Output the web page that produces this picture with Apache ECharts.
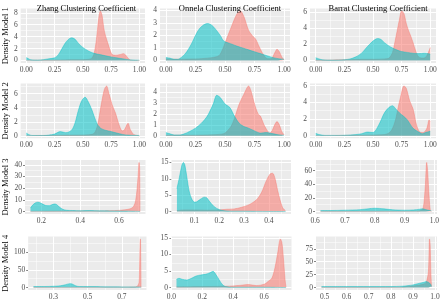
<!DOCTYPE html>
<html>
<head>
<meta charset="utf-8">
<script src="https://cdn.jsdelivr.net/npm/echarts@6/dist/echarts.min.js"></script>
</head>
<body style="margin:0; background:#fff">
<div id="main" style="width:443px;height:304px"></div>
<script>
// column titles and row names
var titles = ['Zhang Clustering Coefficient', 'Onnela Clustering Coefficient', 'Barrat Clustering Coefficient'];
var rowNames = ['Density Model 1', 'Density Model 2', 'Density Model 3', 'Density Model 4'];

// density curves, [x, density]
var zhangM1Red = [[0,0.05],[0.1,0.05],[0.2,0.08],[0.3,0.1],[0.4,0.15],[0.5,0.15],[0.55,0.2],[0.58,0.4],[0.6,1.2],[0.62,3.5],[0.64,7.0],[0.655,8.3],[0.67,7.6],[0.685,5.5],[0.7,4.2],[0.72,3.0],[0.74,1.8],[0.76,1.0],[0.79,0.9],[0.83,1.0],[0.86,1.15],[0.88,0.9],[0.9,0.4],[0.92,0.1],[0.95,0.02],[1.0,0]];
var zhangM1Teal = [[0,0.5],[0.02,0.3],[0.04,0.12],[0.1,0.08],[0.15,0.15],[0.2,0.3],[0.25,0.45],[0.28,0.9],[0.31,1.8],[0.34,2.8],[0.37,3.5],[0.4,3.8],[0.43,3.6],[0.46,2.9],[0.5,2.2],[0.55,1.6],[0.6,1.2],[0.65,1.0],[0.7,0.8],[0.75,0.6],[0.8,0.45],[0.85,0.3],[0.9,0.15],[0.95,0.08],[1.0,0.05]];
var onnelaM1Red = [[0,0.15],[0.05,0.1],[0.1,0.1],[0.2,0.12],[0.3,0.15],[0.4,0.25],[0.45,0.4],[0.48,0.9],[0.5,1.4],[0.55,2.6],[0.6,3.7],[0.63,3.95],[0.66,3.5],[0.7,2.4],[0.73,2.0],[0.76,1.7],[0.78,1.3],[0.8,0.9],[0.83,0.4],[0.86,0.15],[0.89,0.15],[0.92,0.6],[0.94,0.9],[0.96,0.7],[0.98,0.3],[1.0,0.05]];
var onnelaM1Teal = [[0,0.25],[0.03,0.2],[0.07,0.1],[0.1,0.1],[0.13,0.25],[0.16,0.5],[0.19,0.9],[0.22,1.4],[0.25,2.0],[0.28,2.5],[0.32,2.85],[0.355,2.95],[0.39,2.8],[0.42,2.5],[0.46,2.0],[0.49,1.55],[0.53,1.4],[0.56,1.3],[0.6,1.15],[0.65,1.0],[0.7,0.85],[0.75,0.7],[0.8,0.55],[0.85,0.4],[0.9,0.25],[0.95,0.15],[1.0,0.1]];
var barratM1Red = [[0,0.05],[0.1,0.05],[0.2,0.08],[0.3,0.1],[0.4,0.15],[0.5,0.15],[0.6,0.2],[0.64,0.3],[0.67,1.0],[0.69,2.2],[0.71,3.6],[0.73,5.0],[0.75,6.1],[0.77,5.8],[0.79,4.6],[0.81,3.7],[0.83,3.0],[0.85,2.2],[0.87,1.3],[0.89,0.6],[0.91,0.35],[0.94,0.3],[0.96,0.4],[0.98,0.9],[1.0,1.6]];
var barratM1Teal = [[0,0.35],[0.03,0.2],[0.06,0.08],[0.15,0.05],[0.25,0.1],[0.3,0.2],[0.35,0.45],[0.4,0.9],[0.45,1.7],[0.5,2.4],[0.54,2.7],[0.57,2.6],[0.6,2.2],[0.65,1.7],[0.7,1.35],[0.75,1.1],[0.8,1.0],[0.85,0.9],[0.9,0.85],[0.95,0.9],[1.0,0.8]];

var zhangM2Red = [[0,0.02],[0.2,0.05],[0.4,0.1],[0.55,0.15],[0.6,0.35],[0.63,1.5],[0.66,4.2],[0.69,6.6],[0.71,7.1],[0.73,6.1],[0.76,4.4],[0.79,3.2],[0.82,1.6],[0.85,0.7],[0.87,0.9],[0.89,1.6],[0.9,1.8],[0.92,0.9],[0.95,0.2],[0.98,0.05],[1.0,0]];
var zhangM2Teal = [[0,0.4],[0.02,0.2],[0.05,0.05],[0.15,0.05],[0.2,0.1],[0.25,0.25],[0.3,0.6],[0.35,0.45],[0.4,0.8],[0.43,1.8],[0.46,3.6],[0.49,5.0],[0.52,5.5],[0.55,4.8],[0.58,3.7],[0.6,2.8],[0.63,1.6],[0.66,1.05],[0.7,0.8],[0.75,0.6],[0.8,0.4],[0.85,0.2],[0.9,0.1],[1.0,0.05]];
var onnelaM2Red = [[0,0.05],[0.2,0.05],[0.4,0.1],[0.47,0.15],[0.5,0.25],[0.55,0.85],[0.58,1.6],[0.62,2.9],[0.66,3.8],[0.7,4.55],[0.72,4.1],[0.75,2.9],[0.78,2.0],[0.8,1.8],[0.83,1.0],[0.86,0.45],[0.88,0.25],[0.9,0.5],[0.92,1.0],[0.94,1.3],[0.96,1.0],[0.98,0.4],[1.0,0.1]];
var onnelaM2Teal = [[0,0.3],[0.03,0.2],[0.07,0.08],[0.12,0.08],[0.16,0.2],[0.2,0.4],[0.25,0.7],[0.3,1.15],[0.35,1.8],[0.4,2.9],[0.43,3.7],[0.46,3.5],[0.5,2.9],[0.54,2.6],[0.58,1.8],[0.62,1.15],[0.66,0.85],[0.7,0.7],[0.75,0.45],[0.8,0.25],[0.85,0.3],[0.9,0.2],[0.95,0.1],[1.0,0.05]];
var barratM2Red = [[0,0.02],[0.3,0.05],[0.5,0.1],[0.6,0.15],[0.65,0.45],[0.68,1.2],[0.7,2.1],[0.72,3.4],[0.74,4.6],[0.77,5.95],[0.79,5.7],[0.82,4.2],[0.85,3.2],[0.88,1.3],[0.91,0.45],[0.94,0.4],[0.97,0.9],[0.99,1.9],[1.0,1.7]];
var barratM2Teal = [[0,0.3],[0.03,0.15],[0.08,0.05],[0.2,0.05],[0.3,0.1],[0.35,0.15],[0.4,0.25],[0.45,0.45],[0.5,0.4],[0.55,1.3],[0.6,2.75],[0.64,3.4],[0.67,3.6],[0.7,3.2],[0.73,2.75],[0.77,2.3],[0.8,1.9],[0.85,0.9],[0.9,0.45],[0.93,0.25],[0.96,0.4],[1.0,0.55]];

var zhangM3Red = [[0.144,0.2],[0.2,0.3],[0.3,0.4],[0.4,0.5],[0.5,0.5],[0.55,0.7],[0.6,1.0],[0.63,1.5],[0.66,2.5],[0.675,4.5],[0.685,9],[0.692,18],[0.698,30],[0.703,42],[0.706,38],[0.708,0]];
var zhangM3Teal = [[0.144,3],[0.155,5.5],[0.17,7.5],[0.18,8],[0.19,7.8],[0.2,7],[0.22,5.3],[0.24,5],[0.26,6.2],[0.27,6.5],[0.28,5.8],[0.29,4.3],[0.31,2],[0.33,1.1],[0.36,0.9],[0.4,0.7],[0.45,0.9],[0.5,0.6],[0.55,0.5],[0.6,0.4],[0.65,0.3],[0.708,0.1]];
var onnelaM3Red = [[0.03,0.3],[0.06,0.5],[0.1,0.5],[0.15,0.4],[0.2,0.5],[0.23,0.7],[0.26,0.8],[0.29,1.3],[0.32,2.1],[0.35,3.6],[0.37,5.8],[0.39,9.5],[0.405,11.5],[0.415,11.7],[0.425,10],[0.435,6.5],[0.445,3.5],[0.455,1.2],[0.467,0.2]];
var onnelaM3Teal = [[0.03,7],[0.04,10.5],[0.05,14.2],[0.056,15],[0.062,14.2],[0.07,10.5],[0.08,6],[0.09,3.8],[0.1,2.9],[0.11,3.0],[0.125,3.8],[0.14,4.4],[0.15,4.2],[0.16,3.2],[0.18,1.5],[0.2,0.6],[0.22,0.25],[0.25,0.1],[0.3,0.1],[0.35,0.05],[0.4,0.02],[0.467,0]];
var barratM3Red = [[0.618,0.3],[0.7,0.3],[0.8,0.3],[0.9,0.4],[0.94,0.6],[0.955,1.5],[0.962,5],[0.966,18],[0.97,42],[0.974,72],[0.977,62],[0.981,30],[0.986,2],[0.99,0]];
var barratM3Teal = [[0.618,1.5],[0.65,1.5],[0.7,2],[0.75,2.8],[0.78,4.2],[0.8,4.9],[0.83,4],[0.86,2.6],[0.9,2],[0.93,2.4],[0.95,3.4],[0.96,4],[0.97,3],[0.99,1]];

var zhangM4Red = [[0.184,0.8],[0.3,0.8],[0.5,1],[0.7,1],[0.77,1.5],[0.79,4],[0.8,15],[0.803,60],[0.806,125],[0.808,137],[0.81,80],[0.812,0]];
var zhangM4Teal = [[0.184,3],[0.25,3],[0.3,3.7],[0.34,5],[0.37,8],[0.395,11],[0.41,10],[0.43,5],[0.45,3],[0.5,2.8],[0.55,2.8],[0.6,2],[0.7,1.9],[0.78,1.8],[0.812,1.2]];
var onnelaM4Red = [[0.033,0.2],[0.2,0.3],[0.3,0.35],[0.35,0.4],[0.4,0.5],[0.45,0.7],[0.5,0.9],[0.55,0.6],[0.6,1],[0.63,2],[0.65,2.8],[0.67,5.9],[0.69,11],[0.705,14.7],[0.715,13.7],[0.725,9],[0.735,2.8],[0.742,0.1]];
var onnelaM4Teal = [[0.033,2.5],[0.05,2.8],[0.07,2.5],[0.1,2.3],[0.13,2.8],[0.16,3.5],[0.19,3.8],[0.22,4],[0.25,4.5],[0.27,4.9],[0.29,3.8],[0.31,2.3],[0.33,0.9],[0.35,0.3],[0.4,0.1],[0.5,0.1],[0.6,0.1],[0.742,0]];
var barratM4Red = [[0.486,0.5],[0.7,0.5],[0.85,0.8],[0.88,2.6],[0.9,3],[0.93,5],[0.95,7],[0.96,10],[0.97,31],[0.975,94],[0.978,83],[0.981,31],[0.984,2]];
var barratM4Teal = [[0.486,2],[0.6,2],[0.7,2],[0.8,2],[0.85,2.6],[0.88,3.9],[0.9,5.2],[0.93,8.4],[0.95,10.3],[0.96,11.6],[0.97,10.3],[0.98,6.5],[0.984,2]];

// tick labels
var unitTicks = [0, 0.25, 0.5, 0.75, 1];
var panels = [
  {red: zhangM1Red, teal: zhangM1Teal, xTicks: unitTicks, xDec: 2, yTicks: [0,2,4,6,8]},
  {red: onnelaM1Red, teal: onnelaM1Teal, xTicks: unitTicks, xDec: 2, yTicks: [0,1,2,3,4]},
  {red: barratM1Red, teal: barratM1Teal, xTicks: unitTicks, xDec: 2, yTicks: [0,2,4,6]},
  {red: zhangM2Red, teal: zhangM2Teal, xTicks: unitTicks, xDec: 2, yTicks: [0,2,4,6]},
  {red: onnelaM2Red, teal: onnelaM2Teal, xTicks: unitTicks, xDec: 2, yTicks: [0,1,2,3,4]},
  {red: barratM2Red, teal: barratM2Teal, xTicks: unitTicks, xDec: 2, yTicks: [0,2,4,6]},
  {red: zhangM3Red, teal: zhangM3Teal, xTicks: [0.2,0.4,0.6], xDec: 1, yTicks: [0,10,20,30,40]},
  {red: onnelaM3Red, teal: onnelaM3Teal, xTicks: [0.1,0.2,0.3,0.4], xDec: 1, yTicks: [0,5,10,15]},
  {red: barratM3Red, teal: barratM3Teal, xTicks: [0.6,0.7,0.8,0.9,1.0], xDec: 1, yTicks: [0,20,40,60]},
  {red: zhangM4Red, teal: zhangM4Teal, xTicks: [0.3,0.5,0.7], xDec: 1, yTicks: [0,50,100]},
  {red: onnelaM4Red, teal: onnelaM4Teal, xTicks: [0.0,0.2,0.4,0.6], xDec: 1, yTicks: [0,5,10,15]},
  {red: barratM4Red, teal: barratM4Teal, xTicks: [0.5,0.6,0.7,0.8,0.9,1.0], xDec: 1, yTicks: [0,25,50,75]}
];

// panel placement (px)
var rowTop = [8.5, 83.5, 160, 236.5];
var rowBottom = [63, 138.3, 214, 290];
var colLeft = [[18,160,310],[17,160,310],[25,171.5,315],[25,171,316]];
var colRight = [[145,290,436],[145,290,436],[145.5,291,437],[146.5,291.5,437]];

var FONT = 'Liberation Serif';
var RED = '#F8766D', TEAL = '#00BFC4';

function minors(ticks, lo, hi) {
  var step = ticks[1] - ticks[0], out = [];
  for (var v = ticks[0] - step / 2; v <= hi; v += step) if (v >= lo) out.push(v);
  return out;
}

var grids = [], xAxes = [], yAxes = [], series = [], titleList = [];
panels.forEach(function (p, i) {
  var r = Math.floor(i / 3), c = i % 3;
  var all = p.red.concat(p.teal);
  var x0 = Math.min.apply(null, all.map(function (d) { return d[0]; }));
  var x1 = Math.max.apply(null, all.map(function (d) { return d[0]; }));
  var y1 = Math.max.apply(null, all.map(function (d) { return d[1]; }));
  var xmin = x0 - 0.05 * (x1 - x0), xmax = x1 + 0.05 * (x1 - x0);
  var ymin = -0.05 * y1, ymax = 1.05 * y1;
  var left = colLeft[r][c], right = colRight[r][c];
  grids.push({left: left, top: rowTop[r], width: right - left, height: rowBottom[r] - rowTop[r],
    show: true, backgroundColor: '#EBEBEB', borderWidth: 0});
  var tickStyle = {show: true, length: 2, lineStyle: {color: '#333', width: 0.6}};
  xAxes.push({gridIndex: i, type: 'value', min: xmin, max: xmax,
    axisLine: {show: false},
    axisTick: Object.assign({customValues: p.xTicks}, tickStyle),
    axisLabel: {customValues: p.xTicks, fontSize: 7.5, fontFamily: FONT, color: '#4D4D4D', margin: 3,
      hideOverlap: false, showMinLabel: true, showMaxLabel: true,
      formatter: (function (d) { return function (v) { return v.toFixed(d); }; })(p.xDec)},
    splitLine: {show: false}});
  var ya = {gridIndex: i, type: 'value', min: ymin, max: ymax,
    axisLine: {show: false},
    axisTick: Object.assign({customValues: p.yTicks}, tickStyle),
    axisLabel: {customValues: p.yTicks, fontSize: 7.5, fontFamily: FONT, color: '#4D4D4D', margin: 3,
      formatter: function (v) { return String(v); }},
    splitLine: {show: false}};
  if (c === 0) {
    ya.name = rowNames[r];
    ya.nameLocation = 'middle';
    ya.nameGap = r < 2 ? 10 : 15;
    ya.nameTextStyle = {fontSize: 8.5, fontFamily: FONT, color: '#000'};
  }
  yAxes.push(ya);

  var lines = [];
  p.xTicks.forEach(function (v) { lines.push({xAxis: v, lineStyle: {width: 1}}); });
  minors(p.xTicks, xmin, xmax).forEach(function (v) { lines.push({xAxis: v, lineStyle: {width: 0.5}}); });
  p.yTicks.forEach(function (v) { lines.push({yAxis: v, lineStyle: {width: 1}}); });
  minors(p.yTicks, ymin, ymax).forEach(function (v) { lines.push({yAxis: v, lineStyle: {width: 0.5}}); });

  [[p.red, RED], [p.teal, TEAL]].forEach(function (s, k) {
    var ser = {type: 'line', xAxisIndex: i, yAxisIndex: i, data: s[0], smooth: 0.3,
      showSymbol: false, silent: true, z: 2 + k,
      lineStyle: {color: s[1], width: 0.6, opacity: 0.7},
      areaStyle: {color: s[1], opacity: 0.55}};
    if (k === 0) {
      ser.markLine = {silent: true, symbol: ['none', 'none'], z: 1, animation: false,
        label: {show: false}, lineStyle: {color: '#fff', type: 'solid'}, data: lines};
    }
    series.push(ser);
  });

  if (r === 0) {
    titleList.push({text: titles[c], left: (left + right) / 2, top: -0.5, textAlign: 'center',
      textStyle: {fontSize: 8.5, fontFamily: FONT, fontWeight: 'normal', color: '#000'}});
  }
});

var chart = echarts.init(document.getElementById('main'));
chart.setOption({
  animation: false,
  title: titleList,
  grid: grids,
  xAxis: xAxes,
  yAxis: yAxes,
  series: series
});
</script>
</body>
</html>
